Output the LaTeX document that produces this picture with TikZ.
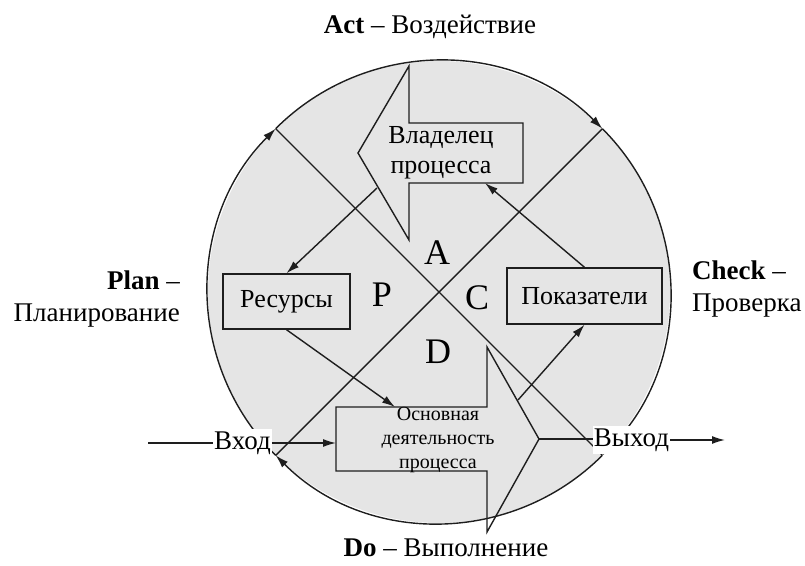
\documentclass[tikz,border=0pt]{standalone}
\usepackage{fontspec}
\setmainfont{Liberation Serif}
\usetikzlibrary{arrows.meta,calc}
\definecolor{cfill}{RGB}{229,229,229}
\definecolor{cline}{RGB}{30,30,30}
\begin{document}
\begin{tikzpicture}[x=1pt,y=1pt,
  ln/.style={line width=1.4pt,draw=cline},
  tip/.style={-{Latex[length=13pt,width=8pt]}},
  lbl/.style={font=\fontsize{27}{32}\selectfont, inner sep=0pt},
  boxt/.style={draw=cline,line width=1.4pt,font=\fontsize{26}{30}\selectfont,inner sep=0pt},
  big/.style={font=\fontsize{36}{36}\selectfont,inner sep=0pt},
  io/.style={fill=white,font=\fontsize{27}{30}\selectfont,inner xsep=1pt,inner ysep=3pt}
]
\useasboundingbox (0,0) rectangle (805,-565);
\coordinate (C) at (439,-292);
\fill[cfill] (C) circle (231);
\coordinate (TL) at ($(C)+(135:231)$);
\coordinate (TR) at ($(C)+(45:231)$);
\coordinate (BR) at ($(C)+(-45:231)$);
\coordinate (BL) at ($(C)+(225:231)$);
% cycle arcs
\draw[ln,tip] (BL) arc[start angle=225,end angle=135,radius=231];
\draw[ln,tip] (TL) arc[start angle=135,end angle=45,radius=231];
\draw[ln,tip] (TR) arc[start angle=45,end angle=-45,radius=231];
\draw[ln,tip] (BR) arc[start angle=315,end angle=225,radius=231];
% diagonals
\draw[ln] (TL) -- (BR);
\draw[ln] (TR) -- (BL);
% owner arrow
\draw[ln,line join=miter] (358,-153) -- (409,-66) -- (409,-123) -- (523,-123) -- (523,-183) -- (409,-183) -- (409,-240) -- cycle;
\node[align=center,font=\fontsize{26}{30}\selectfont,inner sep=0pt] (own) at (441,-153) {Владелец\\процесса};
\coordinate (ownA) at (377,-188);
\coordinate (ownB) at (485,-183);
% main activity arrow
\draw[ln,line join=miter] (336,-407) -- (487,-407) -- (487,-347) -- (539,-439) -- (487,-532) -- (487,-471) -- (336,-471) -- cycle;
\node[align=center,font=\fontsize{20}{24}\selectfont,inner sep=0pt] (main) at (438,-440) {Основная\\деятельность\\процесса};
\coordinate (mainT) at (395,-407);
\coordinate (mainH) at (518,-400);
\coordinate (mainTip) at (539,-439);
\coordinate (inE) at (336,-443);
% boxes
\node[boxt,minimum width=127pt,minimum height=55pt] (res) at (286.5,-301.5) {Ресурсы};
\node[boxt,minimum width=155pt,minimum height=56pt] (pok) at (584.5,-296) {Показатели};
% letters
\node[big] (la) at (437,-253) {A};
\node[big] (lp) at (382,-295) {P};
\node[big] (lc) at (477,-298) {C};
\node[big] (ld) at (438,-352) {D};
% connectors
\draw[ln,tip] (ownA) -- (res.north);
\draw[ln,tip] (res.south) -- (mainT);
\draw[ln,tip] (mainH) -- (pok.south);
\draw[ln,tip] (pok.north) -- (ownB);
% input / output
\coordinate (inS) at (148,-443);
\node[io] (vhod) at (242.5,-443) {Вход};
\draw[ln] (inS) -- (vhod.west);
\draw[ln,tip] (vhod.east) -- (inE);
\node[io] (vyhod) at (631.5,-440) {Выход};
\coordinate (outE) at (725,-440);
\draw[ln] (mainTip) -- (mainTip -| vyhod.west);
\draw[ln,tip] (vyhod.east) -- (outE);
% phase labels
\node[lbl] (act) at (430,-27) {\textbf{Act} – Воздействие};
\node[lbl,align=right,anchor=east] (plan) at (180,-299) {\textbf{Plan} –\\Планирование};
\node[lbl,align=left,anchor=west] (check) at (692,-289) {\textbf{Check} –\\Проверка};
\node[lbl] (do) at (446,-548) {\textbf{Do} – Выполнение};
\end{tikzpicture}
\end{document}
